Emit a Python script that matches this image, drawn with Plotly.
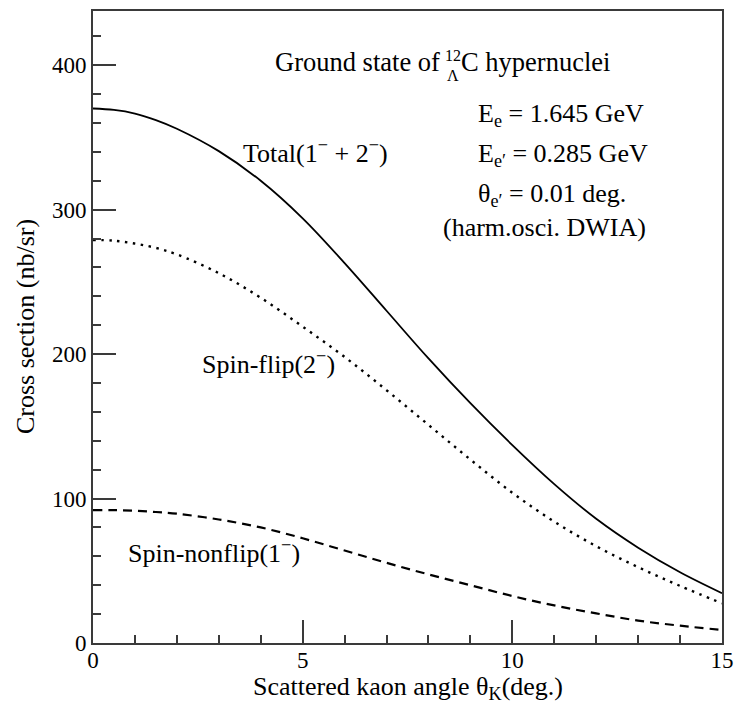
import plotly.graph_objects as go

# Scattered kaon angle (deg.)
theta_k = [0, 0.5, 1, 1.5, 2, 3, 4, 5, 6, 7, 8, 9, 10, 11, 12, 13, 14, 15]
# Cross sections (nb/sr)
total = [370, 369, 366.5, 362, 356, 340.5, 320, 294, 263, 230, 197, 166, 137, 110, 86, 66, 49, 34.5]
spin_flip = [279, 278.5, 276.5, 273.5, 269, 256, 239, 219, 198, 175, 151, 127, 104, 84, 67, 52.5, 39.5, 27.5]
spin_nonflip = [92, 92, 91.5, 90.7, 89.5, 85.5, 80, 72.5, 64, 55.5, 47.5, 40, 32.5, 26, 20.5, 15.5, 12, 9]

x_major = [0, 5, 10, 15]
y_major = [0, 100, 200, 300, 400]

FONT = "Liberation Serif"
AX = "#3a3a3a"

fig = go.Figure()
fig.add_trace(go.Scatter(x=theta_k, y=total, mode="lines",
                         line=dict(color="black", width=1.8, shape="spline", smoothing=1.0),
                         showlegend=False))
fig.add_trace(go.Scatter(x=theta_k, y=spin_flip, mode="lines",
                         line=dict(color="black", width=2.4, dash="2.5px,5.5px", shape="spline", smoothing=1.0),
                         showlegend=False))
fig.add_trace(go.Scatter(x=theta_k, y=spin_nonflip, mode="lines",
                         line=dict(color="black", width=2.2, dash="9px,6px", shape="spline", smoothing=1.0),
                         showlegend=False))

def ann(x, y, text, size=26, xanchor="left", yanchor="middle", xref="x", yref="y"):
    fig.add_annotation(x=x, y=y, xref=xref, yref=yref, text=text, showarrow=False,
                       xanchor=xanchor, yanchor=yanchor,
                       font=dict(family=FONT, size=size, color="black"))

ann(8.33, 402.3, "Ground state of", size=26.5, xanchor="right")
ann(8.59, 407.0, "12", size=16, xanchor="center")
ann(8.59, 393.0, "Λ", size=16, xanchor="center")
ann(8.73, 402.3, "C hypernuclei", size=26.5)
ann(9.14, 365.5, "E<sub>e</sub> = 1.645 GeV")
ann(9.14, 337.8, "E<sub>e′</sub> = 0.285 GeV")
ann(9.14, 310.1, "θ<sub>e′</sub> = 0.01 deg.")
ann(8.30, 287.9, "(harm.osci. DWIA)")
ann(3.53, 340.5, "Total(1<sup>−</sup> + 2<sup>−</sup>)")
ann(2.54, 194.5, "Spin-flip(2<sup>−</sup>)")
ann(0.795, 63.0, "Spin-nonflip(1<sup>−</sup>)")

# axis titles (paper coordinates)
ann(0.5, -0.071, "Scattered kaon angle θ<sub>K</sub>(deg.)", xanchor="center", xref="paper", yref="paper")
fig.add_annotation(x=-0.108, y=0.5, xref="paper", yref="paper", text="Cross section (nb/sr)",
                   showarrow=False, textangle=-90, xanchor="center", yanchor="middle",
                   font=dict(family=FONT, size=26, color="black"))

fig.update_layout(
    width=735, height=709,
    margin=dict(l=93, r=13, t=11, b=66, autoexpand=False),
    paper_bgcolor="white", plot_bgcolor="white",
    font=dict(family=FONT, size=23, color="black"),
)
fig.update_xaxes(
    range=[0, 15], tickvals=x_major, ticktext=[str(v) for v in x_major],
    ticks="inside", ticklen=23, tickwidth=2, tickcolor=AX,
    minor=dict(dtick=1, ticks="inside", ticklen=8, tickwidth=2, tickcolor=AX, showgrid=False),
    showline=True, linecolor=AX, linewidth=2, mirror=True,
    showgrid=False, zeroline=False, automargin=False,
    tickfont=dict(family=FONT, size=23), ticklabelstandoff=-5,
)
fig.update_yaxes(
    range=[0, 437.5], tickvals=y_major, ticktext=[str(v) for v in y_major],
    ticks="inside", ticklen=23, tickwidth=2, tickcolor=AX,
    minor=dict(dtick=20, ticks="inside", ticklen=8, tickwidth=2, tickcolor=AX, showgrid=False),
    showline=True, linecolor=AX, linewidth=2, mirror=True,
    showgrid=False, zeroline=False, automargin=False,
    tickfont=dict(family=FONT, size=23),
)

fig.write_html("out.html", config={"displayModeBar": False},
               post_script="document.body.style.margin='0px';document.body.style.overflow='hidden';")
